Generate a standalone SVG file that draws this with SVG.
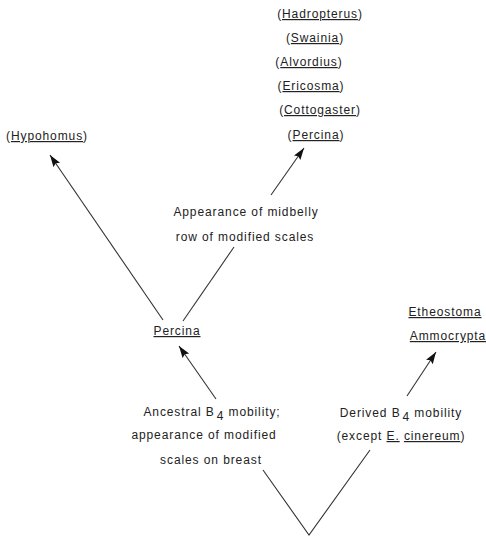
<svg xmlns="http://www.w3.org/2000/svg" width="486" height="537" viewBox="0 0 486 537">
<style>
text{font-family:"Liberation Sans",Arial,sans-serif;font-size:12px;letter-spacing:0.9px;fill:#222;text-anchor:middle}
.u{text-decoration:underline}
.ln{stroke:#333;stroke-width:1.1;fill:none}
</style>
<defs>
<marker id="ah" markerUnits="userSpaceOnUse" markerWidth="14" markerHeight="10" refX="12" refY="4" orient="auto">
<path d="M0,0 L12,4 L0,8 L2,4 Z" fill="#111"/>
</marker>
</defs>
<rect width="486" height="537" fill="#fff"/>
<g id="connectors">
<line class="ln" x1="163" y1="320" x2="50" y2="155" marker-end="url(#ah)"/>
<line class="ln" x1="183" y1="321" x2="234" y2="247"/>
<line class="ln" x1="271" y1="195" x2="304" y2="148" marker-end="url(#ah)"/>
<line class="ln" x1="216" y1="399" x2="179" y2="346" marker-end="url(#ah)"/>
<polyline class="ln" points="263,470 309,535 370,450"/>
<line class="ln" x1="407" y1="396" x2="436" y2="352" marker-end="url(#ah)"/>
</g>
<g id="genera-top">
<text x="320" y="18">(<tspan class="u">Hadropterus</tspan>)</text>
<text x="315" y="42">(<tspan class="u">Swainia</tspan>)</text>
<text x="309" y="66">(<tspan class="u">Alvordius</tspan>)</text>
<text x="311" y="90">(<tspan class="u">Ericosma</tspan>)</text>
<text x="320" y="114">(<tspan class="u">Cottogaster</tspan>)</text>
<text x="316" y="139">(<tspan class="u">Percina</tspan>)</text>
</g>
<g id="hypohomus">
<text x="47" y="140">(<tspan class="u">Hypohomus</tspan>)</text>
</g>
<g id="midbelly">
<text x="246" y="216">Appearance of midbelly</text>
<text x="245" y="241">row of modified scales</text>
</g>
<g id="percina">
<text x="177" y="335" class="u">Percina</text>
</g>
<g id="ancestral">
<text x="212" y="416">Ancestral B<tspan dx="2" dy="4">4</tspan><tspan dy="-4"> mobility;</tspan></text>
<text x="204" y="439">appearance of modified</text>
<text x="211" y="464">scales on breast</text>
</g>
<g id="derived">
<text x="401" y="417">Derived B<tspan dx="2" dy="4">4</tspan><tspan dy="-4"> mobility</tspan></text>
<text x="401" y="440">(except <tspan class="u">E.</tspan> <tspan class="u">cinereum</tspan>)</text>
</g>
<g id="etheostoma">
<text x="445" y="316" class="u">Etheostoma</text>
<text x="448" y="340" class="u">Ammocrypta</text>
</g>
</svg>
